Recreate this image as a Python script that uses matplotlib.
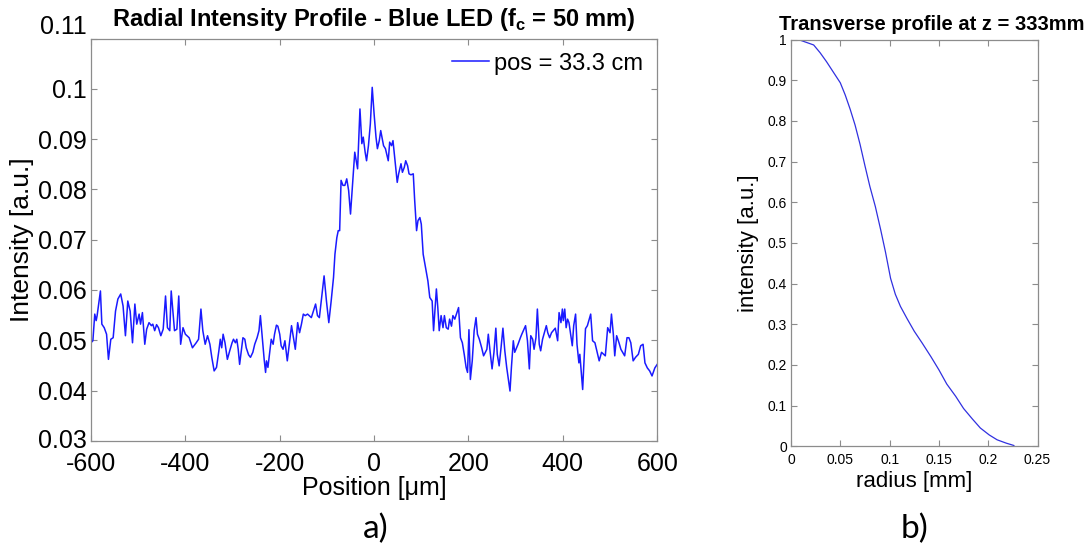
import matplotlib
matplotlib.use("Agg")
import matplotlib.pyplot as plt

plt.rcParams["font.family"] = ["Liberation Sans", "DejaVu Sans"]
plt.rcParams["mathtext.fontset"] = "custom"
plt.rcParams["mathtext.rm"] = "Liberation Sans"
plt.rcParams["mathtext.bf"] = "Liberation Sans:bold"

# panel a) radial intensity profile, blue LED, pos = 33.3 cm
position_um = [
    -600, -596, -592, -589, -587, -580, -577, -572, -567, -563, -558, -553, -548, -543, -537, -532,
    -527, -522, -517, -512, -507, -503, -498, -495, -491, -486, -482, -477, -472, -469, -465, -461,
    -457, -452, -447, -442, -438, -433, -430, -426, -423, -418, -414, -410, -405, -400,
    -392, -385, -377, -372, -367, -363, -358, -353, -348, -344, -339, -334, -329, -326, -323, -320,
    -316, -311, -306, -301, -298, -294, -291, -288, -285, -281, -278, -274, -271, -266, -262, -257,
    -253, -248, -244, -241, -237, -233, -230, -228, -225, -221, -218, -214, -211, -207, -204, -200,
    -197, -193, -189,
    -184, -175, -167, -162, -158, -154, -150, -146, -141, -133, -124, -120, -116, -106, -101, -96,
    -91, -86, -83, -79, -76, -73, -70, -66, -62, -58, -54, -50, -44, -41, -38, -35, -30, -26, -23,
    -19, -16, -12, -8, -4, 0, 4, 7, 11, 14,
    20, 24, 30, 33, 37, 40, 49, 52, 57, 60, 64, 67, 71, 74, 78, 83, 86, 90, 93, 97, 100, 104, 109,
    114, 118, 123, 126, 132, 135, 138, 142, 146, 149, 153, 157, 160, 164, 167, 171, 179, 183, 187,
    191, 195, 198, 201, 204, 208, 212, 216, 219, 223,
    228, 232, 239, 242, 246, 250, 254, 258, 261, 265, 269, 273, 277, 281, 288, 291, 295, 298, 305,
    310, 313, 321, 325, 329, 332, 336, 339, 343, 346, 350, 353, 357, 365, 368, 372, 376, 384, 389,
    392, 396, 399, 401, 404, 407, 410, 413, 420, 423, 427, 430,
    434, 436, 442, 448, 452, 459, 463, 468, 477, 482, 490, 495, 500, 503, 507, 510, 514, 519, 523,
    531, 536, 540, 544, 549, 554, 560, 565, 570, 574, 579, 584, 589, 595, 600,
]
intensity_a = [
    0.0495, 0.0499, 0.0552, 0.0539, 0.0549, 0.0598, 0.0532, 0.0525, 0.0512, 0.0462, 0.0502, 0.0505,
    0.0558, 0.0582, 0.0592, 0.0568, 0.0509, 0.0578, 0.0558, 0.0495, 0.0572, 0.0532, 0.0552, 0.0532,
    0.0555, 0.0492, 0.0522, 0.0535, 0.0529, 0.0532, 0.0519, 0.0531, 0.0525, 0.0509, 0.0522, 0.0588,
    0.0525, 0.0519, 0.0598, 0.0552, 0.0519, 0.0522, 0.0588, 0.0492, 0.0525, 0.0512,
    0.0505, 0.0485, 0.0495, 0.0502, 0.0562, 0.0519, 0.0492, 0.0509, 0.0492, 0.0466, 0.0439, 0.0446,
    0.0479, 0.0502, 0.0485, 0.0512, 0.0495, 0.0462, 0.0479, 0.0495, 0.0502, 0.0495, 0.0502, 0.0482,
    0.0452, 0.0482, 0.0505, 0.0502, 0.0485, 0.0471, 0.0466, 0.0476, 0.0492, 0.0505, 0.0519, 0.0549,
    0.0505, 0.0462, 0.0436, 0.0459, 0.0446, 0.0479, 0.0502, 0.0492, 0.0512, 0.0530, 0.0528, 0.0512,
    0.0489, 0.0482, 0.0499,
    0.0459, 0.0529, 0.0482, 0.0535, 0.0515, 0.0532, 0.0552, 0.0549, 0.0552, 0.0545, 0.0572, 0.0549,
    0.0545, 0.0628, 0.0578, 0.0535, 0.0578, 0.0625, 0.0671, 0.0704, 0.0718, 0.0718, 0.0818, 0.0808,
    0.0808, 0.0821, 0.0798, 0.0751, 0.0831, 0.0874, 0.0857, 0.0841, 0.0960, 0.0891, 0.0904, 0.0874,
    0.0857, 0.0887, 0.0930, 0.1003, 0.0950, 0.0904, 0.0881, 0.0897, 0.0917,
    0.0887, 0.0881, 0.0857, 0.0894, 0.0887, 0.0897, 0.0814, 0.0831, 0.0851, 0.0834, 0.0844, 0.0857,
    0.0847, 0.0831, 0.0829, 0.0831, 0.0778, 0.0718, 0.0738, 0.0744, 0.0731, 0.0671, 0.0645, 0.0618,
    0.0585, 0.0578, 0.0519, 0.0602, 0.0565, 0.0519, 0.0549, 0.0525, 0.0549, 0.0525, 0.0522, 0.0542,
    0.0528, 0.0549, 0.0542, 0.0565, 0.0505, 0.0495, 0.0472, 0.0446, 0.0436, 0.0521, 0.0422, 0.0459,
    0.0519, 0.0545, 0.0512, 0.0502,
    0.0485, 0.0469, 0.0482, 0.0512, 0.0476, 0.0443, 0.0476, 0.0524, 0.0472, 0.0449, 0.0485, 0.0524,
    0.0479, 0.0446, 0.0399, 0.0446, 0.0499, 0.0476, 0.0492, 0.0505, 0.0512, 0.0529, 0.0499, 0.0443,
    0.0509, 0.0502, 0.0482, 0.0505, 0.0562, 0.0492, 0.0479, 0.0502, 0.0529, 0.0515, 0.0505, 0.0515,
    0.0524, 0.0499, 0.0555, 0.0535, 0.0562, 0.0539, 0.0562, 0.0525, 0.0542, 0.0535, 0.0489, 0.0529,
    0.0552, 0.0492,
    0.0455, 0.0472, 0.0402, 0.0523, 0.0529, 0.0552, 0.0499, 0.0495, 0.0459, 0.0476, 0.0469, 0.0525,
    0.0515, 0.0552, 0.0512, 0.0469, 0.0509, 0.0495, 0.0482, 0.0469, 0.0505, 0.0505, 0.0495, 0.0459,
    0.0466, 0.0472, 0.0489, 0.0492, 0.0455, 0.0445, 0.0439, 0.0429, 0.0445, 0.0452,
]

# panel b) transverse profile at z = 333 mm
radius_mm = [0.0, 0.009, 0.023, 0.0295, 0.036, 0.043, 0.050, 0.055, 0.060, 0.065, 0.070,
             0.075, 0.080, 0.0855, 0.091, 0.0958, 0.101, 0.1058, 0.111, 0.1177, 0.125, 0.133,
             0.142, 0.150, 0.158, 0.167, 0.175, 0.184, 0.192, 0.201, 0.209, 0.218, 0.226]
intensity_b = [1.0, 0.999, 0.987, 0.968, 0.946, 0.920, 0.894, 0.864, 0.829, 0.790, 0.743,
               0.690, 0.639, 0.590, 0.532, 0.478, 0.413, 0.374, 0.344, 0.314, 0.283, 0.254,
               0.220, 0.188, 0.153, 0.123, 0.093, 0.067, 0.045, 0.028, 0.016, 0.008, 0.002]

a_yticks = [0.03, 0.04, 0.05, 0.06, 0.07, 0.08, 0.09, 0.1, 0.11]
a_xticks = [-600, -400, -200, 0, 200, 400, 600]
b_yticks = [0, 0.1, 0.2, 0.3, 0.4, 0.5, 0.6, 0.7, 0.8, 0.9, 1]
b_xticks = [0, 0.05, 0.1, 0.15, 0.2, 0.25]


def fmt(v):
    return f"{v:g}"


def matlab_box(ax, size, xpad):
    for s in ax.spines.values():
        s.set_color("#8c8c8c")
        s.set_linewidth(0.9)
    ax.tick_params(direction="in", top=True, right=True, length=4, width=0.8,
                   color="#8c8c8c", labelsize=size, pad=3)
    ax.tick_params(axis="x", pad=xpad)


fig = plt.figure(figsize=(10.91, 5.51), dpi=100)

ax1 = fig.add_axes([0.0834, 0.200, 0.519, 0.730])
ax1.plot(position_um, intensity_a, color="#1a1aff", linewidth=1.1, label="pos = 33.3 cm")
ax1.set_xlim(-600, 600)
ax1.set_ylim(0.03, 0.11)
ax1.set_xticks(a_xticks, [fmt(v) for v in a_xticks])
ax1.set_yticks(a_yticks, [fmt(v) for v in a_yticks])
matlab_box(ax1, 18, 8)
ylabels = ax1.get_yticklabels()
ylabels[-1].set_verticalalignment("bottom")
ylabels[0].set_verticalalignment("center")
ax1.set_xlabel("Position [μm]", fontsize=18, labelpad=0)
ax1.set_ylabel("Intensity [a.u.]", fontsize=19, labelpad=3)
ax1.set_title(r"Radial Intensity Profile - Blue LED (f$_\mathbf{c}$ = 50 mm)",
              fontsize=17, fontweight="bold", pad=9)
ax1.legend(loc="upper right", frameon=False, fontsize=17, handlelength=1.6,
           handletextpad=0.2, borderaxespad=0.2)

ax2 = fig.add_axes([0.725, 0.190, 0.226, 0.738])
ax2.plot(radius_mm, intensity_b, color="#3030e0", linewidth=0.9)
ax2.set_xlim(0, 0.25)
ax2.set_ylim(0, 1)
ax2.set_xticks(b_xticks, [fmt(v) for v in b_xticks])
ax2.set_yticks(b_yticks, [fmt(v) for v in b_yticks])
matlab_box(ax2, 10, 5)
ax2.set_xlabel("radius [mm]", fontsize=16, labelpad=3)
ax2.set_ylabel("intensity [a.u.]", fontsize=16, labelpad=6)
ax2.set_title("Transverse profile at z = 333mm", fontsize=14.5, fontweight="bold",
              pad=7, x=0.57)

fig.text(0.344, 0.04, "a)", fontsize=24, family="Lato", ha="center", va="center")
fig.text(0.838, 0.04, "b)", fontsize=24, family="Lato", ha="center", va="center")

fig.savefig("out.png", dpi=100)
